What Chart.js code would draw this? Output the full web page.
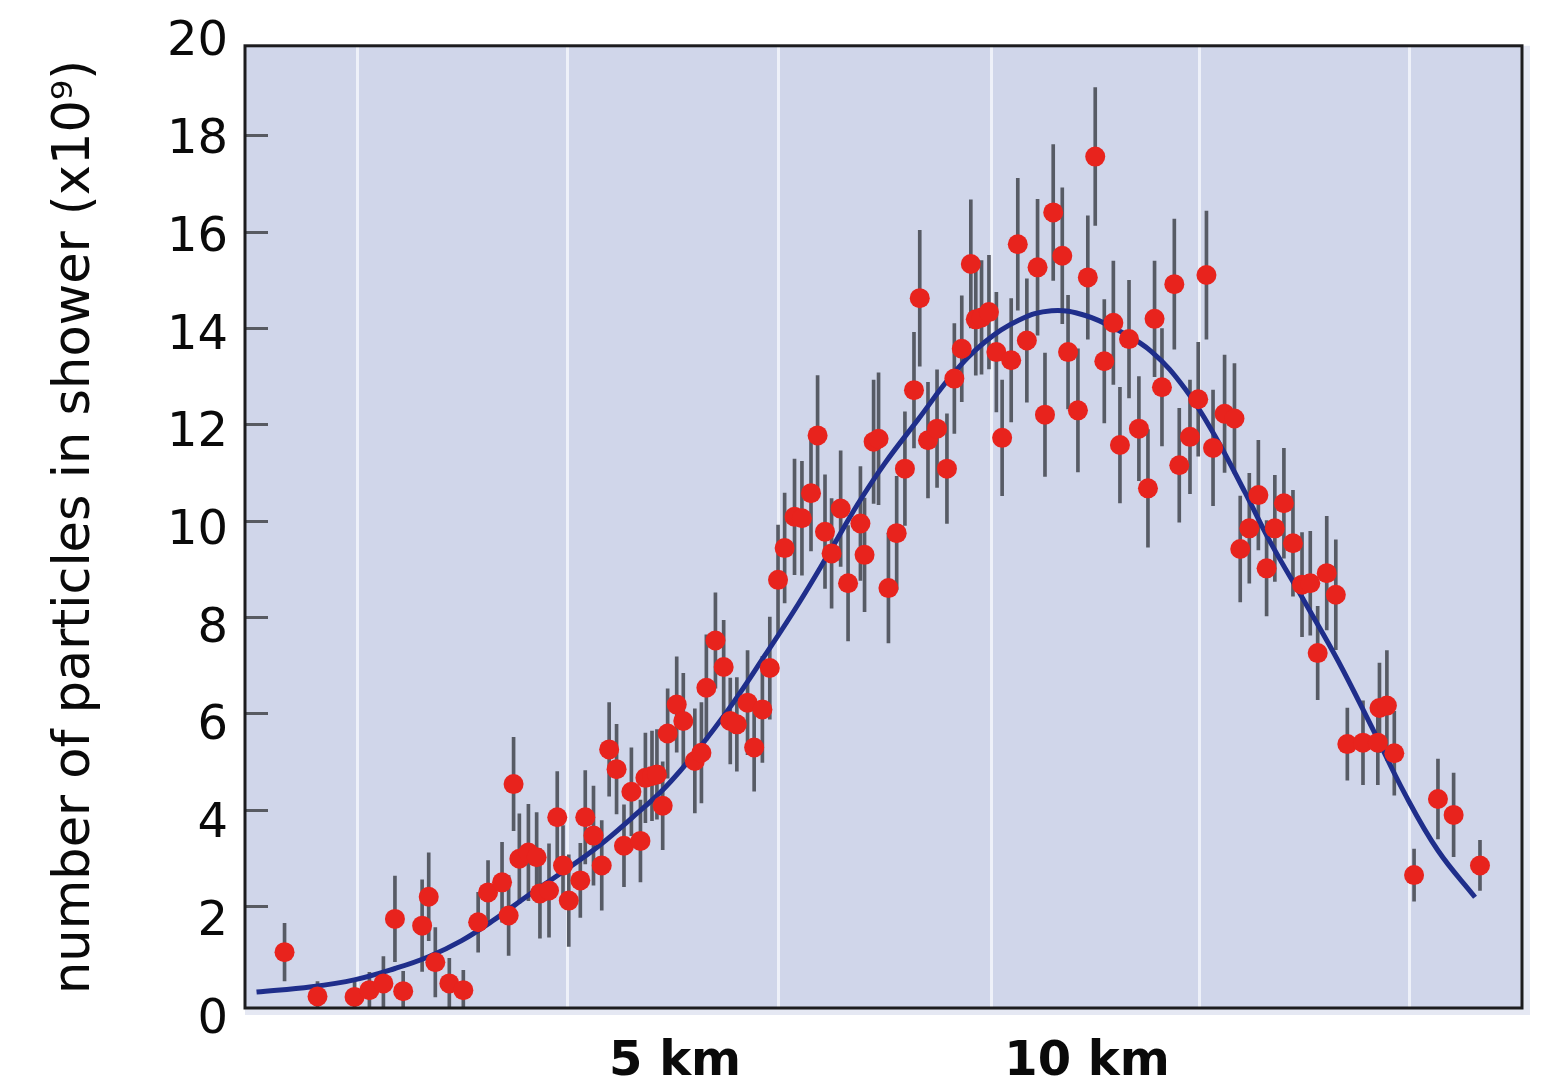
<!DOCTYPE html>
<html>
<head>
<meta charset="utf-8">
<title>Air shower particle count</title>
<script src="https://cdn.jsdelivr.net/npm/chart.js@4.4.1/dist/chart.umd.min.js"></script>
<style>
  html, body { margin: 0; padding: 0; background: #ffffff; }
  #wrap { width: 1552px; height: 1090px; }
</style>
</head>
<body>
<div id="wrap"><canvas id="chart" width="1552" height="1090"></canvas></div>
<script>
// Measured shower size along the track: distance (km), particles (x10^9), one-sigma error
const distKm = [
  0.26, 0.66, 1.11, 1.29, 1.46, 1.60, 1.70, 1.93, 2.01, 2.09,
  2.26, 2.43, 2.61, 2.73, 2.90, 2.98, 3.04, 3.11, 3.22, 3.32,
  3.36, 3.47, 3.57, 3.64, 3.71, 3.85, 3.91, 4.01, 4.11, 4.20,
  4.29, 4.38, 4.47, 4.58, 4.64, 4.72, 4.78, 4.85, 4.91, 5.02,
  5.10, 5.24, 5.32, 5.38, 5.49, 5.59, 5.67, 5.75, 5.88, 5.96,
  6.06, 6.15, 6.25, 6.33, 6.45, 6.54, 6.65, 6.73, 6.82, 6.90,
  7.01, 7.10, 7.25, 7.30, 7.41, 7.47, 7.59, 7.69, 7.79, 7.90,
  7.97, 8.07, 8.18, 8.30, 8.39, 8.48, 8.59, 8.65, 8.72, 8.81,
  8.90, 8.97, 9.08, 9.16, 9.27, 9.40, 9.49, 9.59, 9.70, 9.77,
  9.89, 10.01, 10.10, 10.21, 10.32, 10.40, 10.51, 10.63, 10.74, 10.82,
  10.91, 11.06, 11.12, 11.25, 11.35, 11.45, 11.53, 11.67, 11.79, 11.86,
  11.97, 12.08, 12.18, 12.28, 12.39, 12.50, 12.61, 12.71, 12.80, 12.91,
  13.02, 13.16, 13.35, 13.53, 13.55, 13.64, 13.73, 13.97, 14.26, 14.45,
  14.77
];
const particles = [
  1.04, 0.12, 0.11, 0.25, 0.39, 1.73, 0.23, 1.59, 2.19, 0.83,
  0.39, 0.25, 1.66, 2.28, 2.49, 1.80, 4.53, 2.98, 3.11, 3.01,
  2.26, 2.32, 3.84, 2.84, 2.11, 2.53, 3.84, 3.46, 2.84, 5.25,
  4.84, 3.25, 4.37, 3.35, 4.66, 4.70, 4.73, 4.08, 5.58, 6.18,
  5.84, 5.01, 5.18, 6.53, 7.51, 6.96, 5.84, 5.77, 6.22, 5.29,
  6.08, 6.94, 8.77, 9.43, 10.08, 10.05, 10.57, 11.77, 9.77, 9.32,
  10.25, 8.70, 9.94, 9.29, 11.64, 11.70, 8.60, 9.74, 11.08, 12.71,
  14.62, 11.67, 11.91, 11.08, 12.95, 13.57, 15.33, 14.18, 14.22, 14.33,
  13.50, 11.72, 13.33, 15.74, 13.74, 15.26, 12.20, 16.40, 15.50, 13.50,
  12.29, 15.05, 17.56, 13.31, 14.11, 11.57, 13.77, 11.91, 10.67, 14.19,
  12.77, 14.91, 11.15, 11.74, 12.52, 15.10, 11.51, 12.22, 12.12, 9.41,
  9.84, 10.53, 9.01, 9.84, 10.36, 9.53, 8.67, 8.70, 7.25, 8.91,
  8.46, 5.36, 5.39, 5.39, 6.11, 6.16, 5.17, 2.64, 4.22, 3.89,
  2.84
];
const particleErr = [
  0.60, 0.31, 0.31, 0.37, 0.56, 0.89, 0.41, 0.95, 0.91, 0.72,
  0.52, 0.41, 0.62, 0.66, 0.83, 0.83, 0.97, 0.93, 1.00, 0.93,
  0.93, 0.97, 0.95, 0.83, 0.95, 0.77, 0.97, 1.03, 0.93, 0.97,
  0.93, 0.85, 0.91, 0.85, 0.93, 0.93, 0.93, 0.91, 0.93, 0.99,
  0.99, 1.08, 1.04, 1.10, 0.99, 0.97, 0.89, 0.97, 1.08, 0.91,
  1.10, 1.06, 1.14, 1.14, 1.20, 1.18, 1.20, 1.24, 1.18, 1.14,
  1.20, 1.20, 1.18, 1.18, 1.28, 1.37, 1.14, 1.18, 1.18, 1.20,
  1.41, 1.20, 1.22, 1.14, 1.14, 1.10, 1.33, 1.16, 1.18, 1.18,
  1.24, 1.20, 1.28, 1.37, 1.28, 1.41, 1.28, 1.41, 1.41, 1.18,
  1.28, 1.28, 1.43, 1.28, 1.28, 1.20, 1.22, 1.08, 1.22, 1.20,
  1.22, 1.35, 1.18, 1.18, 1.18, 1.33, 1.20, 1.22, 1.14, 1.10,
  1.14, 1.14, 0.99, 1.10, 1.14, 1.10, 1.08, 1.08, 0.97, 1.18,
  1.14, 0.75, 0.87, 0.87, 0.93, 1.14, 0.87, 0.54, 0.83, 0.87,
  0.52
];

// Fitted shower profile
const fitKm = [
  -0.08, 0.59, 1.12, 1.60, 2.00, 2.41, 2.82, 3.22, 3.63, 4.07,
  4.47, 4.88, 5.28, 5.69, 6.09, 6.50, 6.90, 7.22, 7.55, 7.95,
  8.36, 8.76, 9.17, 9.57, 9.98, 10.38, 10.79, 11.19, 11.55, 11.92,
  12.22, 12.65, 13.05, 13.46, 13.86, 14.26, 14.71
];
const fitVal = [
  0.21, 0.32, 0.47, 0.70, 0.94, 1.28, 1.73, 2.22, 2.70, 3.24,
  3.82, 4.46, 5.25, 6.18, 7.20, 8.28, 9.42, 10.35, 11.20, 12.10,
  13.02, 13.71, 14.16, 14.36, 14.26, 13.95, 13.50, 12.74, 11.77, 10.58,
  9.57, 8.29, 7.08, 5.70, 4.32, 3.15, 2.18
];

// Axis furniture
const yTicks = [0, 2, 4, 6, 8, 10, 12, 14, 16, 18, 20];
const gridKm = [1.14, 3.70, 6.26, 8.84, 11.37, 13.92];
const xLabelKm = [5, 10];
const xLabelText = ['5 km', '10 km'];
const yTitle = 'number of particles in shower (x10\u2079)';

const points = distKm.map((x, i) => ({ x: x, y: particles[i] }));
const errBars = distKm.map((x, i) => ({ x: x, y: [particles[i] - particleErr[i], particles[i] + particleErr[i]] }));
const fitLine = fitKm.map((x, i) => ({ x: x, y: fitVal[i] }));

const plotFrame = {
  id: 'plotFrame',
  beforeDraw(chart) {
    const { ctx, chartArea: a } = chart;
    ctx.save();
    ctx.fillStyle = '#e5e8f3';
    ctx.fillRect(a.left, a.top, a.width + 8, a.height + 7);
    ctx.fillStyle = '#d0d6ea';
    ctx.fillRect(a.left, a.top, a.width, a.height);
    ctx.restore();
  },
  beforeDatasetsDraw(chart) {
    // short inward tick marks on the left frame edge
    const { ctx, chartArea: a, scales: { y } } = chart;
    ctx.save();
    ctx.strokeStyle = '#585b62';
    ctx.lineWidth = 3;
    yTicks.forEach(v => {
      if (v <= 0 || v >= y.max) return;
      const py = Math.round(y.getPixelForValue(v)) + 0.5;
      ctx.beginPath();
      ctx.moveTo(a.left, py);
      ctx.lineTo(a.left + 23, py);
      ctx.stroke();
    });
    ctx.restore();
  },
  afterDraw(chart) {
    const { ctx, chartArea: a } = chart;
    ctx.save();
    ctx.strokeStyle = '#1c1c1e';
    ctx.lineWidth = 3;
    ctx.strokeRect(a.left, a.top, a.width, a.height);
    ctx.restore();
  }
};

Chart.defaults.font.family = "'DejaVu Sans', sans-serif";
Chart.defaults.color = '#111111';

new Chart(document.getElementById('chart'), {
  type: 'scatter',
  data: {
    datasets: [
      {
        type: 'scatter',
        data: points,
        order: 0,
        pointRadius: 10,
        pointHoverRadius: 10,
        pointBackgroundColor: '#e8231d',
        pointBorderWidth: 0,
        borderColor: '#e8231d'
      },
      {
        type: 'line',
        data: fitLine,
        order: 1,
        borderColor: '#1f2e8b',
        borderWidth: 5,
        pointRadius: 0,
        fill: false,
        tension: 0.4
      },
      {
        type: 'bar',
        data: errBars,
        order: 2,
        grouped: false,
        barThickness: 3,
        backgroundColor: '#575b65',
        borderWidth: 0
      }
    ]
  },
  options: {
    responsive: false,
    animation: false,
    events: [],
    layout: { padding: { left: 45, top: 42, right: 30, bottom: 0 } },
    plugins: {
      legend: { display: false },
      tooltip: { enabled: false }
    },
    scales: {
      x: {
        type: 'linear',
        min: -0.22,
        max: 15.28,
        offset: false,
        border: { display: false },
        grid: {
          offset: false,
          drawTicks: false,
          lineWidth: 3,
          color: ctx => (ctx.tick && gridKm.includes(ctx.tick.value)) ? '#eef1f9' : 'rgba(0,0,0,0)'
        },
        afterBuildTicks: scale => {
          scale.ticks = gridKm.concat(xLabelKm).sort((a, b) => a - b).map(v => ({ value: v }));
        },
        afterFit: scale => { scale.height = 82; },
        ticks: {
          autoSkip: false,
          maxRotation: 0,
          minRotation: 0,
          padding: 26,
          color: '#0a0a0a',
          font: { size: 48, weight: 'bold' },
          callback: value => {
            const i = xLabelKm.indexOf(value);
            return i >= 0 ? xLabelText[i] : '';
          }
        }
      },
      // data scale (values of the marks)
      y: {
        type: 'linear',
        display: false,
        min: -0.12,
        max: 19.86
      },
      // numbered scale with the axis title
      yLabels: {
        type: 'linear',
        position: 'left',
        min: 0.25,
        max: 19.94,
        border: { display: false },
        grid: { display: false, drawTicks: false },
        afterBuildTicks: scale => {
          scale.ticks = yTicks.map(v => ({ value: v }));
        },
        afterFit: scale => { scale.width = 200; },
        title: {
          display: true,
          text: yTitle,
          color: '#0a0a0a',
          padding: 0,
          font: { size: 51 }
        },
        ticks: {
          autoSkip: false,
          padding: 17,
          color: '#0a0a0a',
          font: { size: 48 }
        }
      }
    }
  },
  plugins: [plotFrame]
});
</script>
</body>
</html>
